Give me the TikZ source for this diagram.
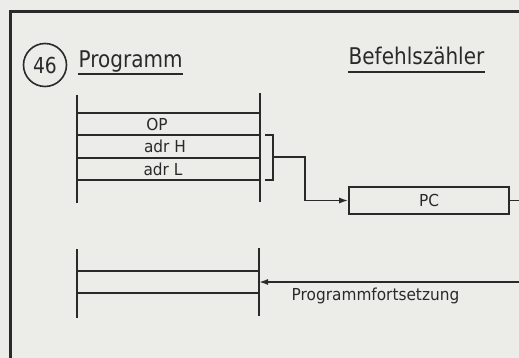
\documentclass[tikz,border=0pt]{standalone}
\usepackage{fontspec}
\setmainfont{DejaVu Sans}
\usetikzlibrary{arrows.meta}
\definecolor{ink}{HTML}{2A2A2A}
\definecolor{paper}{HTML}{ECECE9}
\begin{document}
\begin{tikzpicture}[x=1pt,y=-1pt,
  line width=1.6pt, color=ink,
  frame/.style={line width=3pt},
  big/.style={font=\fontsize{23}{26}\selectfont, xscale=0.87, inner sep=0pt, text=ink},
  small/.style={font=\fontsize{16.5}{19}\selectfont, xscale=0.93, inner sep=0pt, text=ink},
  arr/.style={-{Latex[length=9pt,width=6pt]}},
  pcbox/.style={draw, minimum width=160pt, minimum height=27pt, inner sep=0pt}
]
\useasboundingbox (0,0) rectangle (519,358);
\clip (0,0) rectangle (519,358);
\fill[paper] (0,0) rectangle (519,358);
% frame
\draw[frame] (10,400) -- (10,12) -- (540,12);
% headings
\node[circle, draw, minimum size=43pt, inner sep=0pt] (num) at (45,65) {};
\node[font=\fontsize{22}{22}\selectfont, xscale=0.85, inner sep=0pt] (numtext) at (num.center) {46};
\node[big, anchor=base west] (prog) at (78,68) {Programm};
\draw ([yshift=-6pt]prog.base west) -- ([yshift=-6pt]prog.base east);
\node[big, anchor=base west] (bef) at (348,65) {Befehlszähler};
\draw ([yshift=-7pt]bef.base west) -- ([yshift=-7pt]bef.base east);
% program column 1
\draw (77,95) -- (77,203);
\draw (260,93) -- (260,202);
\foreach \yy in {113,135,158,180} \draw (77,\yy) -- (260,\yy);
\node[small] (op) at (157,124.5) {OP};
\node[small] (adrh) at (165,146.5) {adr H};
\node[small] (adrl) at (163,169) {adr L};
% bracket
\draw (265,135) -- (273,135) -- (273,180) -- (265,180);
\coordinate (br) at (273,157);
% PC
\node[pcbox] (pc) at (429,200.5) {};
\node[small] (pctext) at (pc.center) {PC};
\draw[arr] (br) -- (305,157) |- (pc.west);
% program column 2
\draw (77,249) -- (77,318);
\draw (259,248) -- (259,316);
\draw (77,271) -- (259,271);
\draw (77,293) -- (259,293);
\coordinate (cont) at (259,282);
\draw[arr] (pc.east) -- (540,200.5) |- (cont);
\node[small, anchor=base west] (fort) at (291,300) {Programmfortsetzung};
\end{tikzpicture}
\end{document}
